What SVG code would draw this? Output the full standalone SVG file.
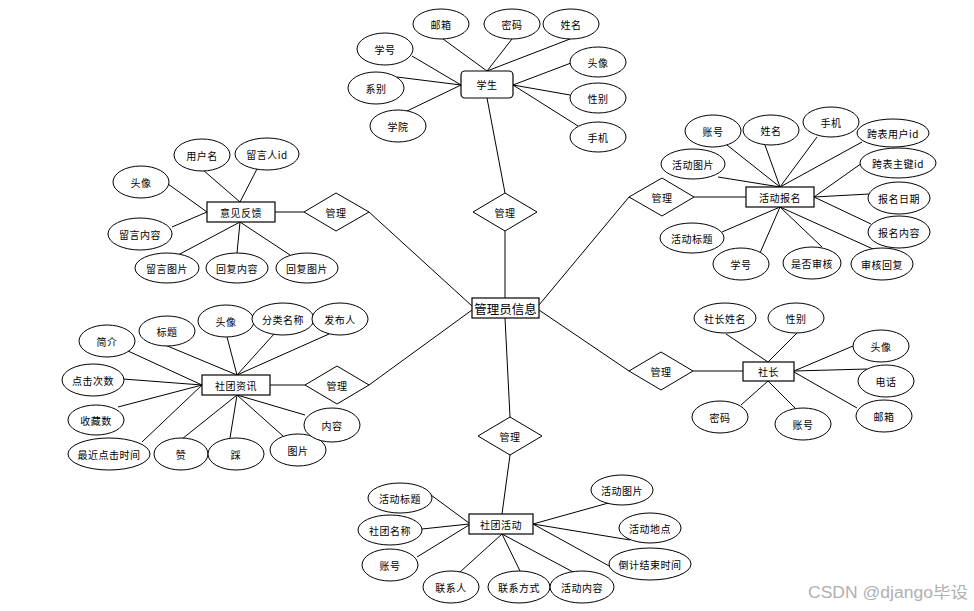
<svg xmlns="http://www.w3.org/2000/svg" width="974" height="611" viewBox="0 0 974 611">
<style>
.e{fill:#fff;stroke:#000;stroke-width:1}
.r{fill:#fff;stroke:#000;stroke-width:1.2}
.d{fill:#fff;stroke:#000;stroke-width:1}
.c line{stroke:#000;stroke-width:1}
text{font-family:"Noto Sans CJK SC","Liberation Sans",sans-serif;font-size:10px;fill:#000;text-anchor:middle;dominant-baseline:central;letter-spacing:0.5px}
.big{font-size:12.5px;letter-spacing:0}
.wm{font-family:"Liberation Sans","Noto Sans CJK SC",sans-serif;font-size:16px;fill:#b0b0b0;text-anchor:start;letter-spacing:0}
</style>
<rect width="974" height="611" fill="#fff"/>
<g id="connectors" class="c">
<line x1="443" y1="39" x2="487" y2="71"/>
<line x1="512" y1="39" x2="487" y2="71"/>
<line x1="570" y1="39" x2="487" y2="71"/>
<line x1="412" y1="56" x2="461" y2="85"/>
<line x1="397" y1="77" x2="461" y2="85"/>
<line x1="407" y1="111" x2="461" y2="85"/>
<line x1="571" y1="63" x2="513" y2="85"/>
<line x1="570" y1="95" x2="513" y2="85"/>
<line x1="578" y1="126" x2="513" y2="85"/>
<line x1="487" y1="98" x2="505" y2="193"/>
<line x1="505" y1="231" x2="505" y2="298"/>
<line x1="203" y1="170" x2="240" y2="202"/>
<line x1="257" y1="169" x2="240" y2="202"/>
<line x1="168" y1="184" x2="207" y2="212"/>
<line x1="172" y1="227" x2="207" y2="212"/>
<line x1="178" y1="255" x2="240" y2="222"/>
<line x1="237" y1="253" x2="240" y2="222"/>
<line x1="290" y1="255" x2="240" y2="222"/>
<line x1="275" y1="212" x2="304" y2="212"/>
<line x1="369" y1="212" x2="472" y2="306"/>
<line x1="128" y1="351" x2="202" y2="385"/>
<line x1="123" y1="379" x2="202" y2="385"/>
<line x1="118" y1="407" x2="202" y2="385"/>
<line x1="142" y1="442" x2="202" y2="385"/>
<line x1="165" y1="345" x2="237" y2="375"/>
<line x1="227" y1="337" x2="237" y2="375"/>
<line x1="274" y1="334" x2="237" y2="375"/>
<line x1="329" y1="334" x2="237" y2="375"/>
<line x1="182" y1="439" x2="237" y2="395"/>
<line x1="230" y1="438" x2="237" y2="395"/>
<line x1="283" y1="436" x2="237" y2="395"/>
<line x1="305" y1="415" x2="237" y2="395"/>
<line x1="270" y1="385" x2="305" y2="385"/>
<line x1="369" y1="385" x2="472" y2="310"/>
<line x1="539" y1="305" x2="629" y2="197"/>
<line x1="694" y1="197" x2="746" y2="197"/>
<line x1="727" y1="145" x2="780" y2="187"/>
<line x1="765" y1="145" x2="780" y2="187"/>
<line x1="817" y1="137" x2="780" y2="187"/>
<line x1="862" y1="142" x2="780" y2="187"/>
<line x1="718" y1="177" x2="780" y2="187"/>
<line x1="862" y1="163" x2="814" y2="197"/>
<line x1="869" y1="194" x2="814" y2="197"/>
<line x1="871" y1="224" x2="814" y2="197"/>
<line x1="873" y1="249" x2="780" y2="207"/>
<line x1="822" y1="247" x2="780" y2="207"/>
<line x1="760" y1="253" x2="780" y2="207"/>
<line x1="722" y1="232" x2="780" y2="207"/>
<line x1="539" y1="310" x2="629" y2="371"/>
<line x1="693" y1="371" x2="743" y2="371"/>
<line x1="726" y1="334" x2="768" y2="362"/>
<line x1="797" y1="333" x2="768" y2="362"/>
<line x1="853" y1="346" x2="794" y2="371"/>
<line x1="867" y1="369" x2="794" y2="371"/>
<line x1="857" y1="408" x2="794" y2="372"/>
<line x1="741" y1="405" x2="768" y2="381"/>
<line x1="795" y1="408" x2="768" y2="381"/>
<line x1="505" y1="318" x2="510" y2="417"/>
<line x1="510" y1="455" x2="502" y2="514"/>
<line x1="431" y1="495" x2="469" y2="523"/>
<line x1="422" y1="529" x2="469" y2="524"/>
<line x1="417" y1="557" x2="469" y2="525"/>
<line x1="460" y1="572" x2="502" y2="534"/>
<line x1="520" y1="571" x2="502" y2="534"/>
<line x1="573" y1="572" x2="502" y2="534"/>
<line x1="612" y1="502" x2="533" y2="524"/>
<line x1="630" y1="540" x2="533" y2="524"/>
<line x1="611" y1="567" x2="533" y2="524"/>
</g>
<g id="admin"><rect class="r" x="472" y="298" width="67" height="20"/><text class="big" x="505.5" y="308">管理员信息</text></g>
<g id="m1"><polygon class="d" points="473,212 505,193 537,212 505,231"/><text x="505" y="212">管理</text></g>
<g id="m2"><polygon class="d" points="304,212 336,193 369,212 336,231"/><text x="336" y="212">管理</text></g>
<g id="m3"><polygon class="d" points="305,385 337,366 369,385 337,404"/><text x="337" y="385">管理</text></g>
<g id="m4"><polygon class="d" points="629,197 662,178 694,197 662,216"/><text x="662" y="197">管理</text></g>
<g id="m5"><polygon class="d" points="629,371 661,352 693,371 661,390"/><text x="661" y="371">管理</text></g>
<g id="m6"><polygon class="d" points="478,436 510,417 542,436 510,455"/><text x="510" y="436">管理</text></g>
<g id="student"><rect class="r" x="461" y="71" width="52" height="27" rx="4"/><text x="487" y="84.5">学生</text></g>
<g id="s-a1"><ellipse class="e" cx="441" cy="24" rx="28" ry="15"/><text x="441" y="24">邮箱</text></g>
<g id="s-a2"><ellipse class="e" cx="512" cy="24" rx="28" ry="15"/><text x="512" y="24">密码</text></g>
<g id="s-a3"><ellipse class="e" cx="571" cy="24" rx="28" ry="15"/><text x="571" y="24">姓名</text></g>
<g id="s-a4"><ellipse class="e" cx="385" cy="49" rx="28" ry="16"/><text x="385" y="49">学号</text></g>
<g id="s-a5"><ellipse class="e" cx="376" cy="88" rx="28" ry="16"/><text x="376" y="88">系别</text></g>
<g id="s-a6"><ellipse class="e" cx="398" cy="126" rx="28" ry="16"/><text x="398" y="126">学院</text></g>
<g id="s-a7"><ellipse class="e" cx="598" cy="62" rx="28" ry="15"/><text x="598" y="62">头像</text></g>
<g id="s-a8"><ellipse class="e" cx="598" cy="98" rx="28" ry="15"/><text x="598" y="98">性别</text></g>
<g id="s-a9"><ellipse class="e" cx="598" cy="137" rx="28" ry="15"/><text x="598" y="137">手机</text></g>
<g id="feedback"><rect class="r" x="207" y="202" width="68" height="20"/><text x="241" y="212">意见反馈</text></g>
<g id="f-a1"><ellipse class="e" cx="202" cy="155" rx="28" ry="16"/><text x="202" y="155">用户名</text></g>
<g id="f-a2"><ellipse class="e" cx="267" cy="154" rx="32" ry="16"/><text x="267" y="154">留言人id</text></g>
<g id="f-a3"><ellipse class="e" cx="141" cy="182" rx="28" ry="16"/><text x="141" y="182">头像</text></g>
<g id="f-a4"><ellipse class="e" cx="140" cy="234" rx="32" ry="16"/><text x="140" y="234">留言内容</text></g>
<g id="f-a5"><ellipse class="e" cx="167" cy="268" rx="32" ry="15"/><text x="167" y="268">留言图片</text></g>
<g id="f-a6"><ellipse class="e" cx="237" cy="268" rx="31" ry="15"/><text x="237" y="268">回复内容</text></g>
<g id="f-a7"><ellipse class="e" cx="307" cy="268" rx="31" ry="15"/><text x="307" y="268">回复图片</text></g>
<g id="news"><rect class="r" x="202" y="375" width="68" height="20"/><text x="236" y="385">社团资讯</text></g>
<g id="n-a1"><ellipse class="e" cx="107" cy="341" rx="28" ry="16"/><text x="107" y="341">简介</text></g>
<g id="n-a2"><ellipse class="e" cx="167" cy="331" rx="28" ry="15"/><text x="167" y="331">标题</text></g>
<g id="n-a3"><ellipse class="e" cx="226" cy="321" rx="28" ry="16"/><text x="226" y="321">头像</text></g>
<g id="n-a4"><ellipse class="e" cx="283" cy="319" rx="31" ry="16"/><text x="283" y="319">分类名称</text></g>
<g id="n-a5"><ellipse class="e" cx="340" cy="319" rx="28" ry="16"/><text x="340" y="319">发布人</text></g>
<g id="n-a6"><ellipse class="e" cx="93" cy="380" rx="31" ry="16"/><text x="93" y="380">点击次数</text></g>
<g id="n-a7"><ellipse class="e" cx="96" cy="420" rx="28" ry="15"/><text x="96" y="420">收藏数</text></g>
<g id="n-a8"><ellipse class="e" cx="109" cy="454" rx="41" ry="16"/><text x="109" y="454">最近点击时间</text></g>
<g id="n-a9"><ellipse class="e" cx="181" cy="454" rx="27" ry="16"/><text x="181" y="454">赞</text></g>
<g id="n-a10"><ellipse class="e" cx="236" cy="454" rx="28" ry="16"/><text x="236" y="454">踩</text></g>
<g id="n-a11"><ellipse class="e" cx="298" cy="450" rx="28" ry="16"/><text x="298" y="450">图片</text></g>
<g id="n-a12"><ellipse class="e" cx="332" cy="425" rx="28" ry="17"/><text x="332" y="425">内容</text></g>
<g id="signup"><rect class="r" x="746" y="187" width="68" height="20"/><text x="780" y="197">活动报名</text></g>
<g id="b-a1"><ellipse class="e" cx="713" cy="131" rx="28" ry="16"/><text x="713" y="131">账号</text></g>
<g id="b-a2"><ellipse class="e" cx="771" cy="130" rx="28" ry="15"/><text x="771" y="130">姓名</text></g>
<g id="b-a3"><ellipse class="e" cx="831" cy="122" rx="28" ry="15"/><text x="831" y="122">手机</text></g>
<g id="b-a4"><ellipse class="e" cx="893" cy="133" rx="36" ry="14"/><text x="893" y="133">跨表用户id</text></g>
<g id="b-a5"><ellipse class="e" cx="693" cy="164" rx="32" ry="15"/><text x="693" y="164">活动图片</text></g>
<g id="b-a6"><ellipse class="e" cx="898" cy="163" rx="38" ry="15"/><text x="898" y="163">跨表主键id</text></g>
<g id="b-a7"><ellipse class="e" cx="899" cy="198" rx="31" ry="16"/><text x="899" y="198">报名日期</text></g>
<g id="b-a8"><ellipse class="e" cx="899" cy="232" rx="31" ry="16"/><text x="899" y="232">报名内容</text></g>
<g id="b-a9"><ellipse class="e" cx="692" cy="238" rx="32" ry="15"/><text x="692" y="238">活动标题</text></g>
<g id="b-a10"><ellipse class="e" cx="741" cy="264" rx="28" ry="16"/><text x="741" y="264">学号</text></g>
<g id="b-a11"><ellipse class="e" cx="812" cy="263" rx="29" ry="16"/><text x="812" y="263">是否审核</text></g>
<g id="b-a12"><ellipse class="e" cx="882" cy="264" rx="31" ry="16"/><text x="882" y="264">审核回复</text></g>
<g id="president"><rect class="r" x="743" y="362" width="51" height="19"/><text x="768.5" y="371.5">社长</text></g>
<g id="p-a1"><ellipse class="e" cx="725" cy="318" rx="31" ry="15"/><text x="725" y="318">社长姓名</text></g>
<g id="p-a2"><ellipse class="e" cx="796" cy="318" rx="28" ry="15"/><text x="796" y="318">性别</text></g>
<g id="p-a3"><ellipse class="e" cx="881" cy="346" rx="28" ry="16"/><text x="881" y="346">头像</text></g>
<g id="p-a4"><ellipse class="e" cx="886" cy="381" rx="28" ry="16"/><text x="886" y="381">电话</text></g>
<g id="p-a5"><ellipse class="e" cx="884" cy="416" rx="28" ry="16"/><text x="884" y="416">邮箱</text></g>
<g id="p-a6"><ellipse class="e" cx="720" cy="417" rx="28" ry="16"/><text x="720" y="417">密码</text></g>
<g id="p-a7"><ellipse class="e" cx="803" cy="424" rx="28" ry="16"/><text x="803" y="424">账号</text></g>
<g id="activity"><rect class="r" x="469" y="514" width="64" height="20"/><text x="501" y="524">社团活动</text></g>
<g id="a-a1"><ellipse class="e" cx="400" cy="498" rx="32" ry="15"/><text x="400" y="498">活动标题</text></g>
<g id="a-a2"><ellipse class="e" cx="390" cy="530" rx="32" ry="15"/><text x="390" y="530">社团名称</text></g>
<g id="a-a3"><ellipse class="e" cx="390" cy="565" rx="28" ry="16"/><text x="390" y="565">账号</text></g>
<g id="a-a4"><ellipse class="e" cx="451" cy="587" rx="28" ry="16"/><text x="451" y="587">联系人</text></g>
<g id="a-a5"><ellipse class="e" cx="519" cy="587" rx="31" ry="16"/><text x="519" y="587">联系方式</text></g>
<g id="a-a6"><ellipse class="e" cx="582" cy="587" rx="32" ry="16"/><text x="582" y="587">活动内容</text></g>
<g id="a-a7"><ellipse class="e" cx="622" cy="490" rx="31" ry="15"/><text x="622" y="490">活动图片</text></g>
<g id="a-a8"><ellipse class="e" cx="650" cy="528" rx="31" ry="15"/><text x="650" y="528">活动地点</text></g>
<g id="a-a9"><ellipse class="e" cx="650" cy="564" rx="41" ry="16"/><text x="650" y="564">倒计结束时间</text></g>
<text class="wm" x="808" y="592" textLength="160" lengthAdjust="spacingAndGlyphs">CSDN @django毕设</text>
</svg>
